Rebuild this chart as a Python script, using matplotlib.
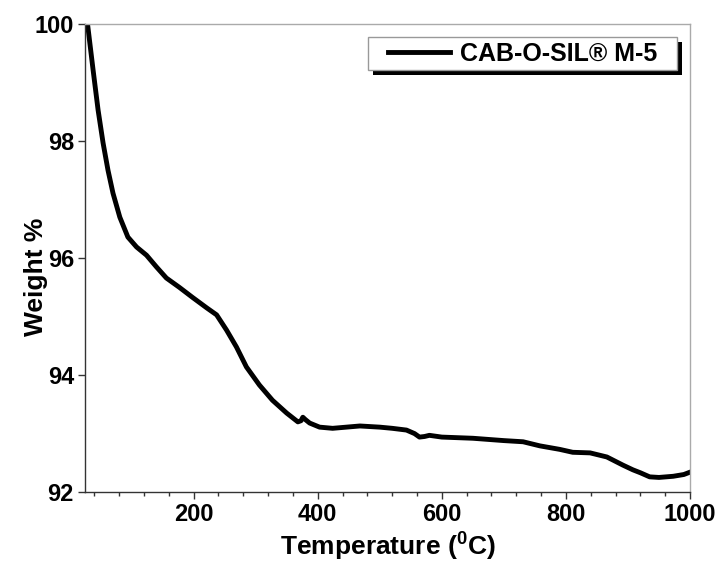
import matplotlib
matplotlib.use("Agg")
import matplotlib.pyplot as plt
from matplotlib.ticker import MultipleLocator
from matplotlib.patches import Rectangle

plt.rcParams['font.family'] = ['Liberation Sans', 'DejaVu Sans']
plt.rcParams['font.weight'] = 'bold'
plt.rcParams['mathtext.fontset'] = 'custom'
plt.rcParams['mathtext.rm'] = 'Liberation Sans:bold'
plt.rcParams['mathtext.bf'] = 'Liberation Sans:bold'

# TGA curve
temp = [29, 38, 46, 54, 62, 70, 81, 94, 108, 124, 140, 156, 177, 198, 221,
        237, 253, 269, 285, 306, 327, 350, 368, 373, 376, 380, 387, 403, 424,
        468, 500, 520, 543, 556, 564, 572, 580, 600, 650, 700, 731, 758, 790,
        811, 839, 866, 892, 908, 920, 935, 950, 973, 990, 1000]
weight = [100.0, 99.21, 98.53, 97.97, 97.5, 97.11, 96.7, 96.36, 96.19, 96.05,
          95.85, 95.66, 95.5, 95.33, 95.15, 95.03, 94.77, 94.48, 94.14, 93.83,
          93.57, 93.35, 93.2, 93.22, 93.28, 93.24, 93.18, 93.11, 93.09, 93.13,
          93.11, 93.09, 93.06, 93.0, 92.94, 92.95, 92.97, 92.94, 92.92, 92.88,
          92.86, 92.79, 92.73, 92.68, 92.67, 92.6, 92.46, 92.38, 92.33, 92.26,
          92.25, 92.27, 92.3, 92.34]
label = 'CAB-O-SIL® M-5'

fig = plt.figure(figsize=(7.21, 5.63), dpi=100)
ax = fig.add_axes([0.118, 0.126, 0.839, 0.831])

ax.plot(temp, weight, color='black', lw=3.5, label=label,
        solid_joinstyle='round')

ax.set_xlim(25, 1000)
ax.set_ylim(92, 100)
ax.xaxis.set_major_locator(MultipleLocator(200))
ax.xaxis.set_minor_locator(MultipleLocator(40))
ax.yaxis.set_major_locator(MultipleLocator(2))
ax.tick_params(which='major', direction='out', length=5, width=1, labelsize=17,
               color='#333333', pad=3)
ax.tick_params(which='minor', direction='out', length=3, width=1, color='#333333')

for s in ['top', 'right']:
    ax.spines[s].set_color('#aaaaaa')
    ax.spines[s].set_linewidth(1)
for s in ['left', 'bottom']:
    ax.spines[s].set_color('#333333')
    ax.spines[s].set_linewidth(1)

ax.set_xlabel(r'Temperature ($^{0}$C)', fontsize=19, fontweight='bold', labelpad=2)
ax.set_ylabel('Weight %', fontsize=19, fontweight='bold')
ax.yaxis.set_label_coords(-0.062, 0.46)

# legend box with a solid black drop shadow
bx0, bx1, by0, by1 = 0.468, 0.9785, 0.9017, 0.972
ax.add_patch(Rectangle((bx0 + 0.0083, by0 - 0.0107), bx1 - bx0, by1 - by0,
                       transform=ax.transAxes, facecolor='black', edgecolor='none',
                       zorder=4))
ax.add_patch(Rectangle((bx0, by0), bx1 - bx0, by1 - by0, transform=ax.transAxes,
                       facecolor='white', edgecolor='#999999', lw=1, zorder=4.5))
leg = ax.legend(loc='center', bbox_to_anchor=((bx0 + bx1) / 2, (by0 + by1) / 2),
                fontsize=18, frameon=False, handlelength=2.48, handletextpad=0.4,
                borderpad=0, borderaxespad=0)
leg.set_zorder(5)
for t in leg.get_texts():
    t.set_fontweight('bold')

fig.savefig('out.png', dpi=100)
